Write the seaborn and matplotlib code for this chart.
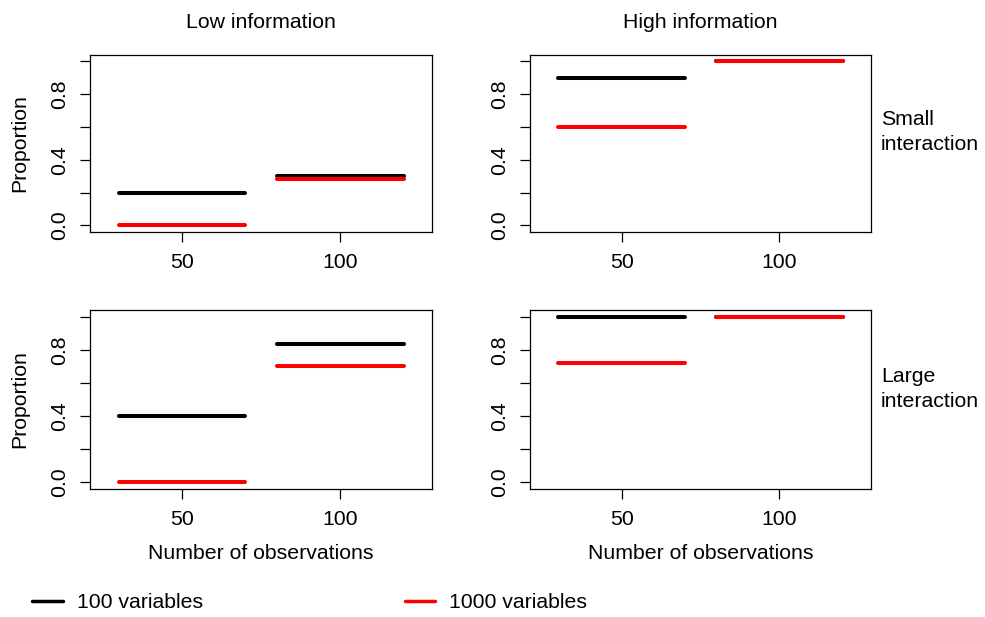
import matplotlib
matplotlib.use("Agg")
import numpy as np
import pandas as pd
import matplotlib.pyplot as plt
import seaborn as sns
from matplotlib.lines import Line2D

# ---- data ----
observations = [50, 100]
variables = ["100 variables", "1000 variables"]
information = ["Low information", "High information"]
interaction = ["Small\ninteraction", "Large\ninteraction"]

low_small_100 = [0.20, 0.30]
low_small_1000 = [0.00, 0.28]
high_small_100 = [0.90, 1.00]
high_small_1000 = [0.60, 1.00]
low_large_100 = [0.40, 0.835]
low_large_1000 = [0.00, 0.70]
high_large_100 = [1.00, 1.00]
high_large_1000 = [0.72, 1.00]

y_ticks = [0.0, 0.2, 0.4, 0.6, 0.8, 1.0]
y_tick_labels = ["0.0", "", "0.4", "", "0.8", ""]

panels = {
    (0, 0): (low_small_100, low_small_1000),
    (0, 1): (high_small_100, high_small_1000),
    (1, 0): (low_large_100, low_large_1000),
    (1, 1): (high_large_100, high_large_1000),
}

HALF = 20  # half-width of each horizontal segment (style)
FS = 15.3

sns.set_theme(style="white")
plt.rcParams["font.family"] = ["Liberation Sans", "DejaVu Sans"]
plt.rcParams["font.size"] = FS
plt.rcParams["text.color"] = "black"
plt.rcParams["axes.labelcolor"] = "black"
plt.rcParams["xtick.color"] = "black"
plt.rcParams["ytick.color"] = "black"

palette = {variables[0]: "black", variables[1]: "red"}

fig = plt.figure(figsize=(9.85, 6.17), dpi=100)

lefts = [90 / 985, 530 / 985]
widths = [342 / 985, 341 / 985]
bottoms = [1 - 232 / 617, 1 - 489 / 617]
heights = [177.3 / 617, 179 / 617]

for (r, c), (v100, v1000) in panels.items():
    rows = []
    seg = 0
    for vname, vals in zip(variables, (v100, v1000)):
        for obs, val in zip(observations, vals):
            for x in (obs - HALF, obs + HALF):
                rows.append({"x": x, "prop": val, "vars": vname, "seg": seg})
            seg += 1
    df = pd.DataFrame(rows)
    ax = fig.add_axes([lefts[c], bottoms[r], widths[c], heights[r]])
    sns.lineplot(data=df, x="x", y="prop", hue="vars", units="seg",
                 estimator=None, palette=palette, hue_order=variables,
                 linewidth=2.9, legend=False, ax=ax, solid_capstyle="round")
    ax.set_xlim(21, 129)
    ax.set_ylim(-0.04, 1.04)
    ax.set_xticks(observations)
    ax.set_xticklabels([str(o) for o in observations])
    ax.set_yticks(y_ticks)
    ax.set_yticklabels(y_tick_labels, rotation=90, va="center")
    for s in ax.spines.values():
        s.set_visible(True)
        s.set_color("black")
        s.set_linewidth(0.9)
    ax.tick_params(axis="both", direction="out", length=7.2, width=0.9,
                   colors="black", labelsize=FS, left=True, bottom=True)
    ax.tick_params(axis="x", pad=8)
    ax.tick_params(axis="y", pad=8)
    ax.set_ylabel("Proportion" if c == 0 else "", fontsize=FS, labelpad=15)
    ax.set_xlabel("Number of observations" if r == 1 else "", fontsize=FS,
                  labelpad=11)
    ax.grid(False)

for c, title in enumerate(information):
    fig.text(lefts[c] + widths[c] / 2, 1 - 22 / 617, title, ha="center",
             va="center", fontsize=FS)

for r, (lab, yc) in enumerate(zip(interaction, [132, 389])):
    fig.text(881 / 985, 1 - yc / 617, lab, ha="left", va="center",
             fontsize=FS, linespacing=1.35)

handles = [Line2D([], [], color=palette[v], linewidth=2.5) for v in variables]
fig.legend(handles, variables, loc="center left",
           bbox_to_anchor=(32 / 985, 1 - 603 / 617), ncol=2, frameon=False,
           fontsize=FS, handlelength=1.45, handletextpad=0.65,
           columnspacing=9.5, borderpad=0, borderaxespad=0)

fig.savefig("out.png", dpi=100)
